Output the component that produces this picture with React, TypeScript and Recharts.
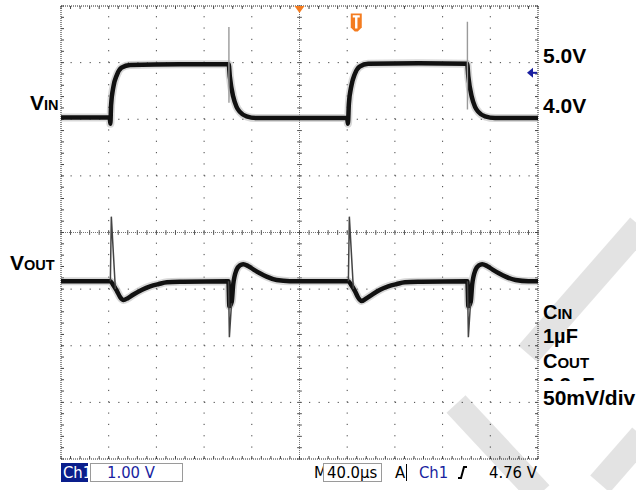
import React from "react";
import { LineChart, Line, XAxis, YAxis, ReferenceLine, ReferenceDot } from "recharts";

// scope screen units: time in divisions (0..10), level in divisions from centre (-4..4)
const vin: [number, number][] = [
  [0, 2.03], [1.02, 2.03], [1.035, 1.92], [1.05, 2.25], [1.1, 2.58], [1.17, 2.78],
  [1.27, 2.91], [1.45, 2.96], [2.5, 2.97], [3.515, 2.97],
  [3.54, 2.75], [3.61, 2.4], [3.68, 2.22], [3.75, 2.13], [3.89, 2.05], [4.1, 2.02],
  [6.0, 2.02], [6.015, 1.92], [6.035, 2.27], [6.09, 2.6], [6.16, 2.8], [6.26, 2.93],
  [6.44, 2.98], [7.5, 2.99], [8.515, 2.98],
  [8.54, 2.75], [8.61, 2.4], [8.68, 2.22], [8.75, 2.13], [8.89, 2.05], [9.1, 2.02], [10, 2.02],
];

const vinSpikes: [number, number | null][] = [
  [3.52, 3.63], [3.521, 2.29], [6, null], [8.52, 3.72], [8.521, 2.17],
];

const vout: [number, number][] = [
  [0, -0.86], [1.03, -0.86], [1.09, -0.92], [1.17, -1.03], [1.24, -1.14], [1.31, -1.19],
  [1.4, -1.16], [1.51, -1.1], [1.7, -1.01], [1.87, -0.95], [2.05, -0.91], [2.22, -0.88],
  [2.56, -0.87], [3.51, -0.86],
  [3.53, -1.3], [3.58, -1.22], [3.61, -0.92], [3.68, -0.66], [3.75, -0.58], [3.82, -0.56],
  [3.92, -0.59], [4.03, -0.65], [4.17, -0.72], [4.31, -0.78], [4.52, -0.84], [4.8, -0.86],
  [6.02, -0.86], [6.08, -0.92], [6.16, -1.03], [6.23, -1.15], [6.3, -1.21], [6.39, -1.17],
  [6.5, -1.11], [6.69, -1.01], [6.86, -0.95], [7.04, -0.91], [7.21, -0.88], [7.55, -0.87],
  [8.52, -0.86],
  [8.54, -1.3], [8.59, -1.22], [8.62, -0.92], [8.69, -0.66], [8.76, -0.58], [8.83, -0.56],
  [8.93, -0.59], [9.04, -0.65], [9.18, -0.72], [9.32, -0.78], [9.53, -0.84], [9.8, -0.86],
  [10, -0.86],
];

const voutSpikes: [number, number | null][] = [
  [1.035, -0.86], [1.055, 0.28], [1.14, -1.0], [2, null],
  [3.512, -0.86], [3.53, -1.85], [3.575, -1.25], [5, null],
  [6.025, -0.86], [6.045, 0.28], [6.13, -1.0], [7, null],
  [8.522, -0.86], [8.54, -1.85], [8.585, -1.25],
];

const trigTime = 5;
const trigBadge = { t: 6.19, v: 3.71 };
const trigLevel = 2.82;

const rightLabels = ["5.0V", "4.0V"];
const noteLabels = ["1µF", "3.3µF", "50mV/div"];

const W = 636;
const H = 490;
const M = { top: 6, right: 98, bottom: 31, left: 61 };
const plotW = W - M.left - M.right;
const plotH = H - M.top - M.bottom;
const hStep = plotW / 50;
const vStep = plotH / 40;
const tickX = 3 / (plotW / 10); // 3px in time divisions
const tickY = 3 / (plotH / 8); // 3px in level divisions

const xMinor = Array.from({ length: 51 }, (_, i) => +(i * 0.2).toFixed(1));
const yMinor = Array.from({ length: 41 }, (_, i) => +(-4 + i * 0.2).toFixed(1));
const xMajor = [1, 2, 3, 4, 6, 7, 8, 9];
const yMajor = [-3, -2, -1, 1, 2, 3];

const rows = (pts: [number, number | null][]) => pts.map(([t, v]) => ({ t, v }));

const ORANGE = "#f47c20";
const NAVY = "#1a1fa0";
const bold = "'Liberation Sans', Arial, sans-serif";
const scopeFont = "'DejaVu Sans Condensed', 'DejaVu Sans', sans-serif";

const ax = { xAxisId: "b", yAxisId: "l", ifOverflow: "visible" as const };

export default function App() {
  return (
    <div style={{ position: "absolute", left: 0, top: 0, width: W, height: H, background: "#fff" }}>
      <LineChart width={W} height={H} margin={M}>
        <XAxis xAxisId="b" dataKey="t" type="number" domain={[0, 10]} hide allowDataOverflow />
        <YAxis yAxisId="l" type="number" domain={[-4, 4]} hide allowDataOverflow />

        {xMajor.map((x) => (
          <ReferenceLine key={"gx" + x} {...ax} x={x} stroke="#444"
            strokeDasharray={`1.2 ${vStep - 1.2}`} />
        ))}
        {yMajor.map((y) => (
          <ReferenceLine key={"gy" + y} {...ax} y={y} stroke="#444"
            strokeDasharray={`1.2 ${hStep - 1.2}`} />
        ))}
        <ReferenceLine {...ax} x={5} stroke="#777" strokeDasharray="1 1" />
        <ReferenceLine {...ax} y={0} stroke="#777" strokeDasharray="1 1" />
        {yMinor.map((y) => (
          <ReferenceLine key={"ty" + y} {...ax} stroke="#555"
            segment={[{ x: 5 - tickX * 0.8, y }, { x: 5 + tickX * 0.8, y }]} />
        ))}
        {xMinor.map((x) => (
          <ReferenceLine key={"tx" + x} {...ax} stroke="#555"
            segment={[{ x, y: -tickY * 0.8 }, { x, y: tickY * 0.8 }]} />
        ))}

        {/* frame with inward ticks */}
        <ReferenceLine {...ax} x={0} stroke="#222" strokeDasharray="1 1" />
        <ReferenceLine {...ax} x={10} stroke="#222" strokeDasharray="1 1" />
        <ReferenceLine {...ax} y={4} stroke="#222" strokeDasharray="1 1" />
        <ReferenceLine {...ax} y={-4} stroke="#222" strokeDasharray="1 1" />
        {yMinor.map((y) => (
          <ReferenceLine key={"fl" + y} {...ax} stroke="#444" segment={[{ x: 0, y }, { x: tickX, y }]} />
        ))}
        {yMinor.map((y) => (
          <ReferenceLine key={"fr" + y} {...ax} stroke="#444" segment={[{ x: 10 - tickX, y }, { x: 10, y }]} />
        ))}
        {xMinor.map((x) => (
          <ReferenceLine key={"ft" + x} {...ax} stroke="#444" segment={[{ x, y: 4 - tickY }, { x, y: 4 }]} />
        ))}
        {xMinor.map((x) => (
          <ReferenceLine key={"fb" + x} {...ax} stroke="#444" segment={[{ x, y: -4 }, { x, y: -4 + tickY }]} />
        ))}

        <Line data={rows(vin)} dataKey="v" xAxisId="b" yAxisId="l" type="monotone" stroke="#a8a8a8"
          strokeWidth={8} strokeOpacity={0.45} dot={false} activeDot={false} isAnimationActive={false} />
        <Line data={rows(vout)} dataKey="v" xAxisId="b" yAxisId="l" type="monotone" stroke="#a8a8a8"
          strokeWidth={8} strokeOpacity={0.45} dot={false} activeDot={false} isAnimationActive={false} />
        <Line data={rows(vin)} dataKey="v" xAxisId="b" yAxisId="l" type="monotone" stroke="#111"
          strokeWidth={4.5} dot={false} activeDot={false} isAnimationActive={false} />
        <Line data={rows(vout)} dataKey="v" xAxisId="b" yAxisId="l" type="monotone" stroke="#111"
          strokeWidth={4.5} dot={false} activeDot={false} isAnimationActive={false} />
        <Line data={rows(vinSpikes)} dataKey="v" xAxisId="b" yAxisId="l" type="linear" stroke="#9a9a9a"
          strokeWidth={1.4} dot={false} activeDot={false} connectNulls={false} isAnimationActive={false} />
        <Line data={rows(voutSpikes)} dataKey="v" xAxisId="b" yAxisId="l" type="linear" stroke="#444"
          strokeWidth={1.5} dot={false} activeDot={false} connectNulls={false} isAnimationActive={false} />

        <ReferenceDot {...ax} x={trigTime} y={4}
          shape={(p: any) => (
            <path d={`M${p.cx - 5},${p.cy} L${p.cx + 5},${p.cy} L${p.cx},${p.cy + 7} Z`} fill={ORANGE} />
          )} />
        <ReferenceDot {...ax} x={trigBadge.t} y={trigBadge.v}
          shape={(p: any) => (
            <g>
              <path
                d={`M${p.cx - 5.5},${p.cy - 9} L${p.cx + 5.5},${p.cy - 9} L${p.cx + 5.5},${p.cy + 5} L${p.cx + 1.5},${p.cy + 9} L${p.cx - 1.5},${p.cy + 9} L${p.cx - 5.5},${p.cy + 5} Z`}
                fill={ORANGE} />
              <path d={`M${p.cx - 3.5},${p.cy - 6} H${p.cx + 3.5} M${p.cx},${p.cy - 6} V${p.cy + 6}`}
                stroke="#fff" strokeWidth={2.4} fill="none" />
            </g>
          )} />
        <ReferenceDot {...ax} x={10} y={trigLevel}
          shape={(p: any) => (
            <g>
              <path d={`M${p.cx - 11},${p.cy} L${p.cx - 5},${p.cy - 5} L${p.cx - 5},${p.cy + 5} Z`} fill={NAVY} />
              <path d={`M${p.cx - 6},${p.cy} H${p.cx - 1}`} stroke={NAVY} strokeWidth={2} />
            </g>
          )} />
      </LineChart>

      <svg width={W} height={H} style={{ position: "absolute", left: 0, top: 0, pointerEvents: "none" }}>
        <defs>
          <clipPath id="cutNote">
            <rect x={540} y={370} width={96} height={11} />
          </clipPath>
        </defs>
        <g stroke="#000" strokeOpacity={0.11} strokeWidth={26} fill="none">
          <path d="M640,226 L528,354" />
          <path d="M456,404 L540,494" />
          <path d="M600,484 L642,436" />
        </g>

        <g fontFamily={bold} fontWeight="bold" fill="#000">
          <text x={30} y={110} fontSize={21}>V<tspan fontSize={14.5}>IN</tspan></text>
          <text x={10} y={270} fontSize={21}>V<tspan fontSize={14.5}>OUT</tspan></text>
          <text x={543} y={63} fontSize={21}>{rightLabels[0]}</text>
          <text x={543} y={113} fontSize={21}>{rightLabels[1]}</text>
          <text x={543} y={319} fontSize={20}>C<tspan fontSize={15}>IN</tspan></text>
          <text x={543} y={343} fontSize={20}>{noteLabels[0]}</text>
          <text x={543} y={368} fontSize={20}>C<tspan fontSize={15}>OUT</tspan></text>
          <text x={543} y={392} fontSize={20} clipPath="url(#cutNote)">{noteLabels[1]}</text>
          <text x={543} y={405} fontSize={21}>{noteLabels[2]}</text>
        </g>

        <g fontFamily={scopeFont} fontSize={16.5} style={{ fontStretch: "condensed" }}>
          <rect x={61} y={463} width={27} height={19} fill="#0a1e8c" />
          <text x={63} y={478} fill="#fff">Ch1</text>
          <rect x={90.5} y={463.5} width={92} height={18} fill="#fff" stroke="#9a9a9a" />
          <text x={107} y={478} fill={NAVY}>1.00 V</text>
          <text x={314} y={478} fill="#000">M</text>
          <rect x={323.5} y={463.5} width={58} height={18} fill="#fff" stroke="#9a9a9a" />
          <text x={327} y={478} fill="#000">40.0µs</text>
          <text x={395} y={478} fill="#000">A</text>
          <path d="M406.5,464 V481" stroke="#000" strokeWidth={1} />
          <text x={419} y={478} fill={NAVY}>Ch1</text>
          <path d="M458,478 L461,478 L464,467 L467,467" stroke="#000" strokeWidth={2} fill="none" />
          <text x={489} y={478} fill="#000">4.76 V</text>
        </g>
      </svg>
    </div>
  );
}
